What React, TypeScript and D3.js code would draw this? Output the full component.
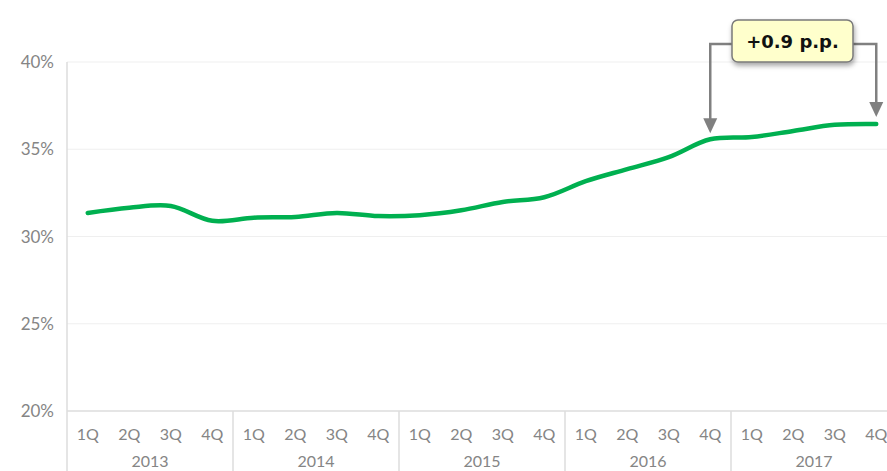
import React from "react";
import * as d3 from "d3";

const years = ["2013", "2014", "2015", "2016", "2017"];
const quarters = ["1Q", "2Q", "3Q", "4Q"];
const values = [
  31.35, 31.65, 31.75, 30.9,
  31.08, 31.12, 31.35, 31.17,
  31.22, 31.5, 31.98, 32.25,
  33.17, 33.86, 34.55, 35.57,
  35.7, 36.05, 36.4, 36.45,
];
const yTicks = [20, 25, 30, 35, 40];
const annotationText = "+0.9 p.p.";
const annotationFrom = 15; // index of 4Q 2016
const annotationTo = 19; // index of 4Q 2017

const W = 887;
const H = 471;
const FONT = "Lato, 'Noto Sans', sans-serif";

export default function App() {
  const keys = years.flatMap((y) => quarters.map((q) => `${y}-${q}`));
  const x = d3.scaleBand<string>().domain(keys).range([67, 897]).padding(0);
  const y = d3.scaleLinear().domain([20, 40]).range([411, 62]);
  const cx = (i: number) => (x(keys[i]) as number) + x.bandwidth() / 2;

  const line = d3
    .line<number>()
    .x((_, i) => cx(i))
    .y((d) => y(d))
    .curve(d3.curveCatmullRom.alpha(0.5));

  const yearW = x.bandwidth() * 4;

  const ax1 = cx(annotationFrom);
  const ax2 = cx(annotationTo);
  const tip1 = y(values[annotationFrom]) - 6;
  const tip2 = y(values[annotationTo]) - 7;
  const connY = 44;
  const boxX = 732;
  const boxW = 121;
  const boxY = 20;
  const boxH = 42;

  return (
    <svg
      width={W}
      height={H}
      style={{ position: "absolute", left: 0, top: 0, background: "#fff" }}
    >
      <defs>
        <filter id="shadow" x="-20%" y="-30%" width="150%" height="180%">
          <feDropShadow dx="1" dy="3" stdDeviation="2.5" floodColor="#000" floodOpacity="0.35" />
        </filter>
      </defs>
      {yTicks.map((t) => (
        <line
          key={t}
          x1={67}
          x2={W}
          y1={y(t)}
          y2={y(t)}
          stroke={t === 20 ? "#dcdcdc" : "#efefef"}
          strokeWidth={t === 20 ? 1.5 : 1.2}
        />
      ))}
      <line x1={67} x2={67} y1={62} y2={H} stroke="#dcdcdc" strokeWidth={1.5} />
      {years.map((yr, i) =>
        i === 0 ? null : (
          <line
            key={yr}
            x1={x(`${yr}-1Q`) as number}
            x2={x(`${yr}-1Q`) as number}
            y1={411}
            y2={H}
            stroke="#dcdcdc"
            strokeWidth={1.5}
          />
        )
      )}
      {yTicks.map((t) => (
        <text
          key={t}
          x={54}
          y={y(t) + 6}
          textAnchor="end"
          fontFamily={FONT}
          fontSize={17}
          fill="#858585"
        >
          {t}%
        </text>
      ))}
      {keys.map((k, i) => (
        <text
          key={k}
          x={cx(i)}
          y={440}
          textAnchor="middle"
          fontFamily={FONT}
          fontSize={16}
          fill="#858585"
        >
          {k.split("-")[1]}
        </text>
      ))}
      {years.map((yr) => (
        <text
          key={yr}
          x={(x(`${yr}-1Q`) as number) + yearW / 2}
          y={467}
          textAnchor="middle"
          fontFamily={FONT}
          fontSize={16}
          fill="#858585"
        >
          {yr}
        </text>
      ))}
      <path
        d={line(values) || ""}
        fill="none"
        stroke="#00b050"
        strokeWidth={4.5}
        strokeLinecap="round"
      />
      <polyline
        points={`${boxX},${connY} ${ax1},${connY} ${ax1},${tip1 - 12}`}
        fill="none"
        stroke="#808080"
        strokeWidth={2.5}
      />
      <polygon
        points={`${ax1 - 7},${tip1 - 15} ${ax1 + 7},${tip1 - 15} ${ax1},${tip1}`}
        fill="#808080"
      />
      <polyline
        points={`${boxX + boxW},${connY} ${ax2},${connY} ${ax2},${tip2 - 12}`}
        fill="none"
        stroke="#808080"
        strokeWidth={2.5}
      />
      <polygon
        points={`${ax2 - 7},${tip2 - 15} ${ax2 + 7},${tip2 - 15} ${ax2},${tip2}`}
        fill="#808080"
      />
      <rect
        x={boxX}
        y={boxY}
        width={boxW}
        height={boxH}
        rx={6}
        fill="#ffffcc"
        stroke="#7a7a7a"
        strokeWidth={1.5}
        filter="url(#shadow)"
      />
      <text
        x={boxX + boxW / 2}
        y={boxY + 28}
        textAnchor="middle"
        fontFamily="'DejaVu Sans', sans-serif"
        fontSize={18}
        fontWeight="bold"
        fill="#111"
      >
        {annotationText}
      </text>
    </svg>
  );
}
